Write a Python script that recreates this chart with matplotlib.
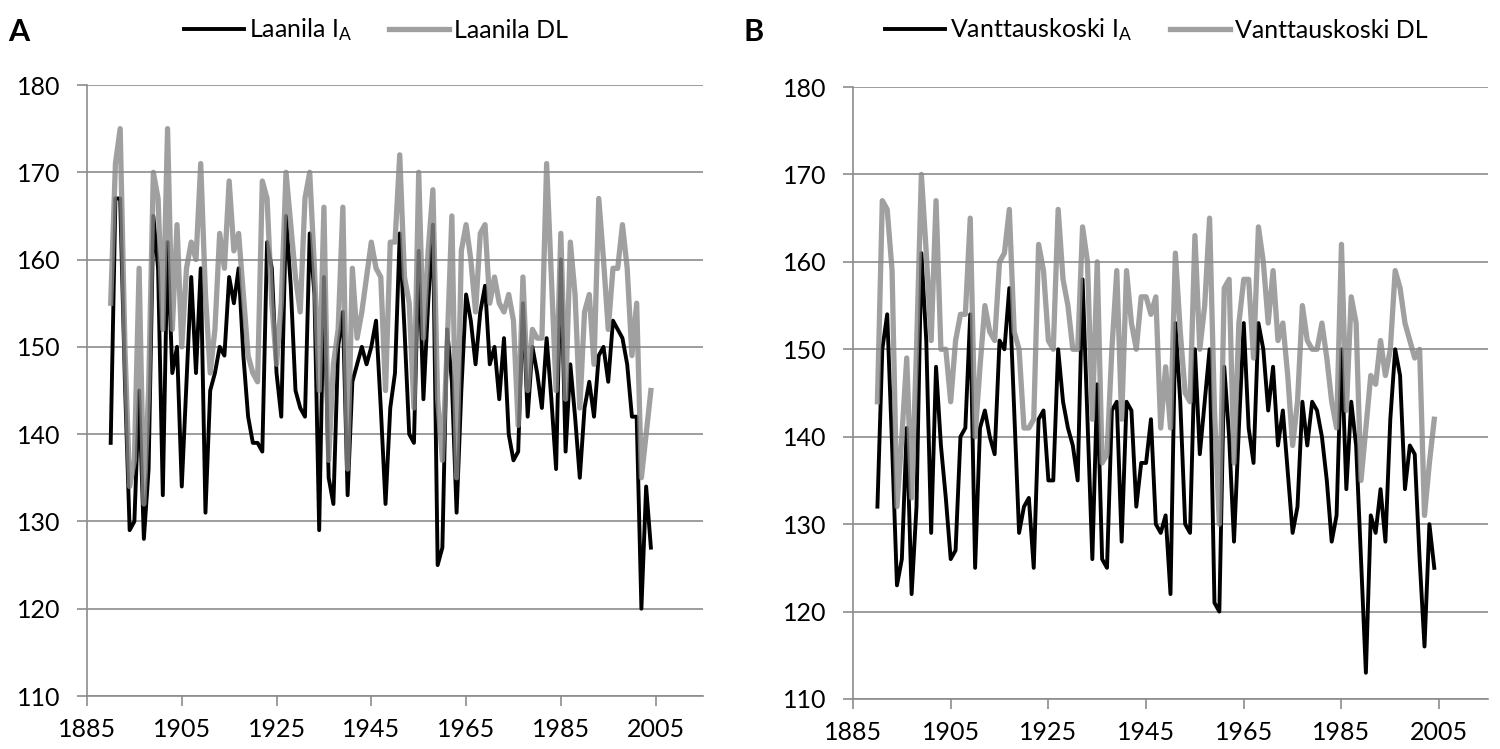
import numpy as np
import matplotlib
matplotlib.use("Agg")
import matplotlib.pyplot as plt

plt.rcParams['font.family'] = ['Lato', 'DejaVu Sans']
plt.rcParams['mathtext.default'] = 'regular'

years = np.arange(1890, 2005)

# Panel A - Laanila
laanila_ia = [
    139, 167, 167, 146, 129, 130, 145, 128, 136, 165,
    159, 133, 162, 147, 150, 134, 146, 158, 147, 159,
    131, 145, 147, 150, 149, 158, 155, 159, 149, 142,
    139, 139, 138, 162, 159, 147, 142, 165, 157, 145,
    143, 142, 163, 156, 129, 158, 135, 132, 150, 154,
    133, 146, 148, 150, 148, 150, 153, 143, 132, 143,
    147, 163, 152, 140, 139, 161, 144, 155, 164, 125,
    127, 152, 146, 131, 145, 156, 153, 148, 154, 157,
    148, 150, 144, 151, 140, 137, 138, 155, 142, 150,
    147, 143, 151, 144, 136, 160, 138, 148, 142, 135,
    143, 146, 142, 149, 150, 146, 153, 152, 151, 148,
    142, 142, 120, 134, 127,
]
laanila_dl = [
    155, 171, 175, 150, 134, 137, 159, 132, 145, 170,
    167, 152, 175, 152, 164, 150, 159, 162, 160, 171,
    156, 147, 152, 163, 159, 169, 161, 163, 156, 149,
    147, 146, 169, 167, 155, 148, 155, 170, 164, 158,
    154, 167, 170, 159, 145, 166, 137, 148, 152, 166,
    136, 159, 151, 154, 158, 162, 159, 158, 145, 162,
    162, 172, 158, 155, 143, 170, 151, 161, 168, 144,
    137, 150, 165, 135, 161, 164, 160, 154, 163, 164,
    155, 158, 155, 154, 156, 153, 141, 158, 145, 152,
    151, 151, 171, 158, 145, 163, 144, 162, 156, 143,
    154, 156, 148, 167, 160, 152, 159, 159, 164, 159,
    149, 155, 135, 140, 145,
]

# Panel B - Vanttauskoski
vantt_ia = [
    132, 150, 154, 139, 123, 126, 141, 122, 132, 161,
    151, 129, 148, 139, 133, 126, 127, 140, 141, 154,
    125, 141, 143, 140, 138, 151, 150, 157, 143, 129,
    132, 133, 125, 142, 143, 135, 135, 150, 144, 141,
    139, 135, 158, 142, 126, 146, 126, 125, 143, 144,
    128, 144, 143, 132, 137, 137, 142, 130, 129, 131,
    122, 153, 144, 130, 129, 150, 138, 144, 150, 121,
    120, 148, 140, 128, 141, 153, 141, 137, 153, 150,
    143, 148, 139, 143, 136, 129, 132, 144, 139, 144,
    143, 140, 135, 128, 131, 150, 134, 144, 139, 126,
    113, 131, 129, 134, 128, 142, 150, 147, 134, 139,
    138, 126, 116, 130, 125,
]
vantt_dl = [
    144, 167, 166, 159, 132, 140, 149, 133, 150, 170,
    161, 151, 167, 150, 150, 144, 151, 154, 154, 165,
    140, 148, 155, 152, 151, 160, 161, 166, 152, 150,
    141, 141, 142, 162, 159, 151, 150, 166, 158, 155,
    150, 150, 164, 160, 142, 160, 137, 138, 150, 159,
    142, 159, 153, 150, 156, 156, 154, 156, 141, 148,
    141, 161, 152, 145, 144, 163, 150, 155, 165, 143,
    130, 157, 158, 137, 153, 158, 158, 149, 164, 160,
    153, 159, 151, 153, 147, 139, 144, 155, 151, 150,
    150, 153, 149, 144, 141, 162, 143, 156, 153, 135,
    141, 147, 146, 151, 147, 150, 159, 157, 153, 151,
    149, 150, 131, 137, 142,
]

GRID = '#8c8c8c'
BLACK = '#000000'
GREY = '#888888'

fig = plt.figure(figsize=(15, 7.49), dpi=100)
ax_a = fig.add_axes([87 / 1500, 53 / 749, 616 / 1500, 611 / 749])
ax_b = fig.add_axes([853 / 1500, 50 / 749, 635 / 1500, 612 / 749])


def panel(ax, ia, dl, name):
    l1, = ax.plot(years, ia, color=BLACK, lw=2.8,
                  label=name + r' I$_{A}$', zorder=3)
    l2, = ax.plot(years, dl, color=GREY, lw=3.8, alpha=0.8,
                  label=name + ' DL', zorder=4)
    ax.set_xlim(1885, 2015)
    ax.set_ylim(110, 180)
    ax.set_xticks(range(1885, 2006, 20))
    ax.set_yticks(range(110, 181, 10))
    ax.yaxis.grid(True, color=GRID, lw=1.2)
    ax.set_axisbelow(True)
    for s in ('top', 'right'):
        ax.spines[s].set_visible(False)
    for s in ('left', 'bottom'):
        ax.spines[s].set_color(GRID)
        ax.spines[s].set_linewidth(1.2)
    ax.tick_params(axis='y', length=7, width=1.2, color=GRID, pad=12,
                   labelsize=18)
    ax.tick_params(axis='x', length=7, width=1.2, color=GRID, pad=9,
                   labelsize=18)
    return l1, l2


ha = panel(ax_a, laanila_ia, laanila_dl, 'Laanila')
hb = panel(ax_b, vantt_ia, vantt_dl, 'Vanttauskoski')

fig.legend(handles=list(ha), loc='center', bbox_to_anchor=(376 / 1500, 1 - 30 / 749),
           ncol=2, frameon=False, fontsize=18, handlelength=2.4,
           handletextpad=0.2, columnspacing=1.5)
fig.legend(handles=list(hb), loc='center', bbox_to_anchor=(1156 / 1500, 1 - 30 / 749),
           ncol=2, frameon=False, fontsize=18, handlelength=2.4,
           handletextpad=0.2, columnspacing=1.5)

fig.text(8 / 1500, 1 - 32 / 749, 'A', fontsize=22, fontweight='bold', va='center')
fig.text(744 / 1500, 1 - 32 / 749, 'B', fontsize=22, fontweight='bold', va='center')

fig.savefig('out.png', dpi=100)
